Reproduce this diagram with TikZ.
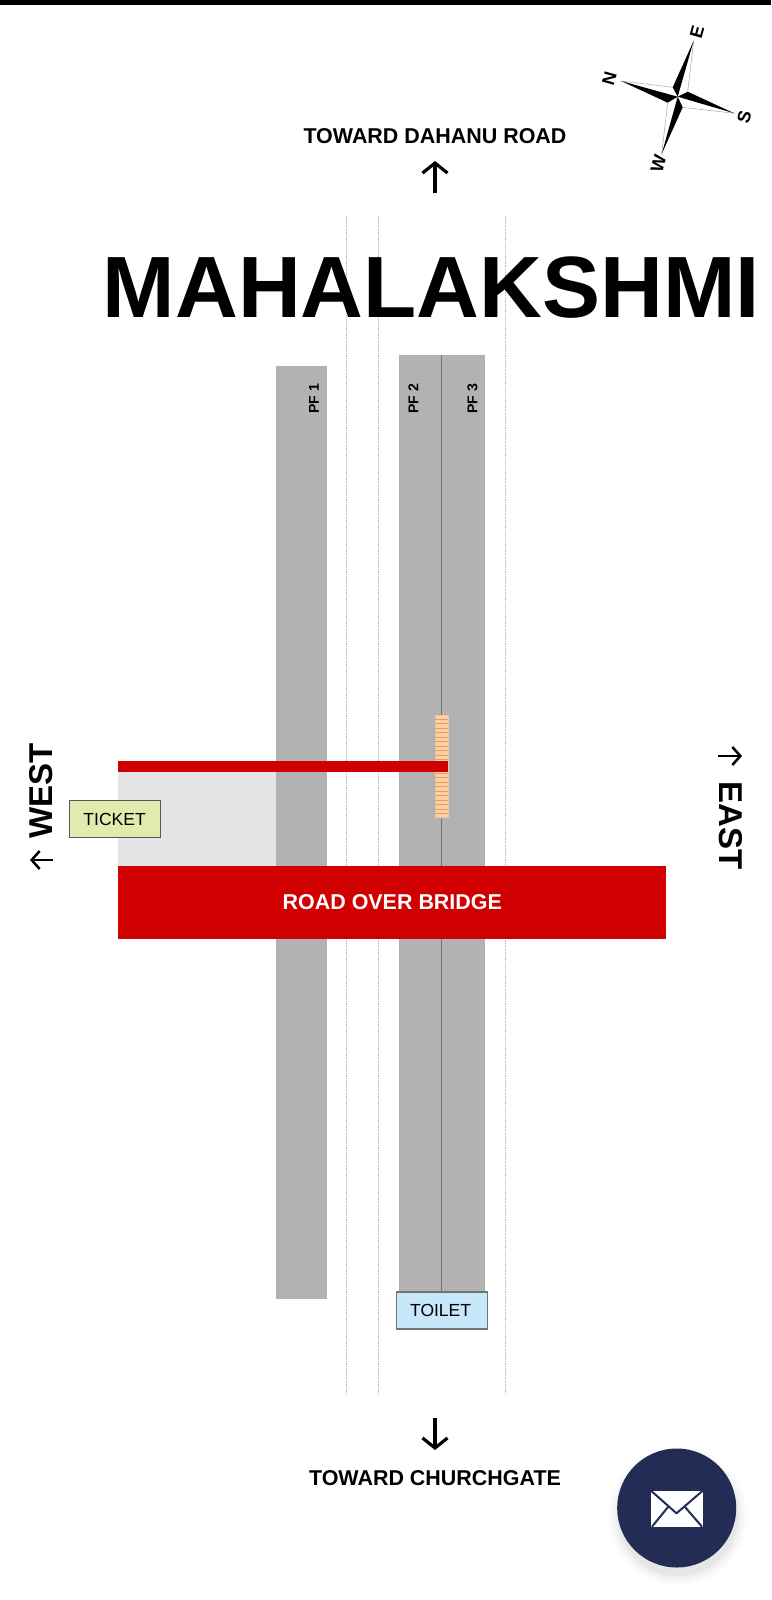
\documentclass[tikz,border=0pt]{standalone}
\usepackage{fontspec}
\setmainfont{Liberation Sans}
\usetikzlibrary{arrows.meta}
\definecolor{pfgray}{HTML}{B2B2B2}
\definecolor{robred}{HTML}{D00000}
\definecolor{wayfill}{HTML}{E5E5E5}
\definecolor{ticketfill}{HTML}{E3EAAE}
\definecolor{toiletfill}{HTML}{C6E8FA}
\definecolor{navybtn}{HTML}{232C54}
\definecolor{stairfill}{HTML}{FFCFA0}
\definecolor{stairline}{HTML}{D9A070}
\definecolor{trackline}{HTML}{B4B4B4}
\newcommand{\fsz}[1]{\fontsize{#1}{#1}\selectfont}
\tikzset{
  x=1pt,y=-1pt,
  every node/.style={inner sep=0pt,outer sep=0pt,text=black},
  plat/.style={fill=pfgray,draw=none},
  trackln/.style={draw=trackline,line width=0.8pt,densely dotted},
  dirhead/.style={line width=3.2pt,-{Straight Barb[length=10pt,width=25pt,line width=3.2pt]}},
  sidehead/.style={line width=2.5pt,-{Straight Barb[length=8pt,width=18pt,line width=2.5pt]}},
  pflabel/.style={rotate=90,font=\bfseries\fsz{14.2}},
  dirlabel/.style={font=\bfseries\fsz{21.45}},
  sidelabel/.style={font=\bfseries\fsz{33}},
  infobox/.style={draw=#1,line width=1.1pt,font=\fsz{17.5},anchor=center},
  complabel/.style={font=\bfseries\fsz{18},rotate=74.5},
  starhalf/.style={fill=black,draw=none},
  starline/.style={draw=gray!70,line width=0.5pt},
}
\begin{document}
\begin{tikzpicture}
\useasboundingbox (0,0) rectangle (771,1600);
\fill[white] (0,0) rectangle (771,1600);
\fill[black] (0,0) rectangle (771,5.5);

% track lines
\foreach \n/\px in {a/346.7,b/378.3,c/505.7}{
  \coordinate (tt\n) at (\px,216);
  \coordinate (tb\n) at (\px,1395);
  \draw[trackln] (tt\n) -- (tb\n);
}

% title
\node[font=\bfseries\fsz{87},anchor=base] (title) at (431.5,317.7) {MAHALAKSHMI};

% platforms
\fill[plat] (276.3,366) rectangle (327,1298.5);
\fill[plat] (399,354.7) rectangle (484.7,1300);
\coordinate (midtop) at (441.7,354.7);
\coordinate (midbot) at (441.7,1292);
\draw[draw=black!55,line width=0.8pt] (midtop) -- (midbot);

\node[pflabel] (pf1) at (314,399) {PF 1};
\node[pflabel] (pf2) at (413.5,399) {PF 2};
\node[pflabel] (pf3) at (472.5,399) {PF 3};

% stairs
\fill[stairfill,draw=stairline!60,line width=0.5pt] (435.3,715) rectangle (448,817.7);
\foreach \k in {0,...,21}{
  \draw[stairline,line width=0.45pt] (435.3,{719+\k*4.5}) -- (448,{719+\k*4.5});
}
% walkway
\fill[wayfill] (118.3,772) rectangle (276.3,866);
\fill[robred] (118.3,760.7) rectangle (448,772);
\node[fill=robred,minimum width=548pt,minimum height=73pt,text=white,font=\bfseries\fsz{21.45}] (rob) at (392.3,902.2) {\textcolor{white}{ROAD OVER BRIDGE}};

% boxes
\node[infobox=black!65,fill=ticketfill,minimum width=91pt,minimum height=37.5pt] (ticket) at (114.6,819) {\raisebox{-1pt}{TICKET}};
\node[infobox=black!55,fill=toiletfill,minimum width=91pt,minimum height=37pt] (toilet) at (441.6,1310.5) {\raisebox{-1pt}{\hspace{-2pt}TOILET}};

% direction labels
\node[dirlabel] (north) at (435,136.5) {TOWARD DAHANU ROAD};
\coordinate (na) at (435,193);
\coordinate (nb) at (435,161);
\draw[dirhead] (na) -- (nb);
\node[dirlabel] (south) at (435,1478) {TOWARD CHURCHGATE};
\coordinate (sa) at (435,1418);
\coordinate (sb) at (435,1450);
\draw[dirhead] (sa) -- (sb);

\node[sidelabel,rotate=90] (west) at (41.5,791) {WEST};
\coordinate (wa) at (53,860);
\coordinate (wb) at (30,860);
\draw[sidehead] (wa) -- (wb);
\node[sidelabel,rotate=-90] (east) at (730.5,825.5) {EAST};
\coordinate (ea) at (718,756);
\coordinate (eb) at (742,756);
\draw[sidehead] (ea) -- (eb);

% compass
\coordinate (cc) at (677.7,96.7);
\coordinate (tE) at (693.7,40.7);
\coordinate (tN) at (621,81);
\coordinate (tS) at (734.3,113.3);
\coordinate (tW) at (661.7,154);
\coordinate (iEN) at (672.7,87.3);
\coordinate (iES) at (687.7,91.7);
\coordinate (iSW) at (682.7,107.3);
\coordinate (iWN) at (667.7,102.7);
\draw[starline] (tE) -- (iES) (tS) -- (iSW) (tW) -- (iWN) (tN) -- (iEN);
\fill[starhalf] (tE) -- (iEN) -- (cc) -- cycle;
\fill[starhalf] (tN) -- (iWN) -- (cc) -- cycle;
\fill[starhalf] (tS) -- (iES) -- (cc) -- cycle;
\fill[starhalf] (tW) -- (iSW) -- (cc) -- cycle;
\node[complabel] (lE) at (697,31.7) {E};
\node[complabel] (lN) at (609.3,78.3) {N};
\node[complabel] (lS) at (744.3,116.7) {S};
\node[complabel] (lW) at (658.3,164) {W};

% mail button
\foreach \r/\o in {70/0.008,68/0.01,66/0.012,64/0.015,62/0.02,60/0.03}{
  \fill[black,opacity=\o] (678,1516) circle (\r);
}
\fill[navybtn] (676.7,1508) circle (59.5);
\fill[white] (651,1490.7) rectangle (702.7,1526.7);
\coordinate (ml) at (651,1490.7);
\coordinate (mr) at (702.7,1490.7);
\coordinate (mc) at (676.5,1513.3);
\coordinate (bl) at (652,1526.7);
\coordinate (br) at (702,1526.7);
\coordinate (il) at (668,1507);
\coordinate (ir) at (685,1507);
\draw[navybtn,line width=2pt,line join=round] (ml) -- (mc) -- (mr);
\draw[navybtn,line width=2pt] (bl) -- (il) (br) -- (ir);
\end{tikzpicture}
\end{document}
